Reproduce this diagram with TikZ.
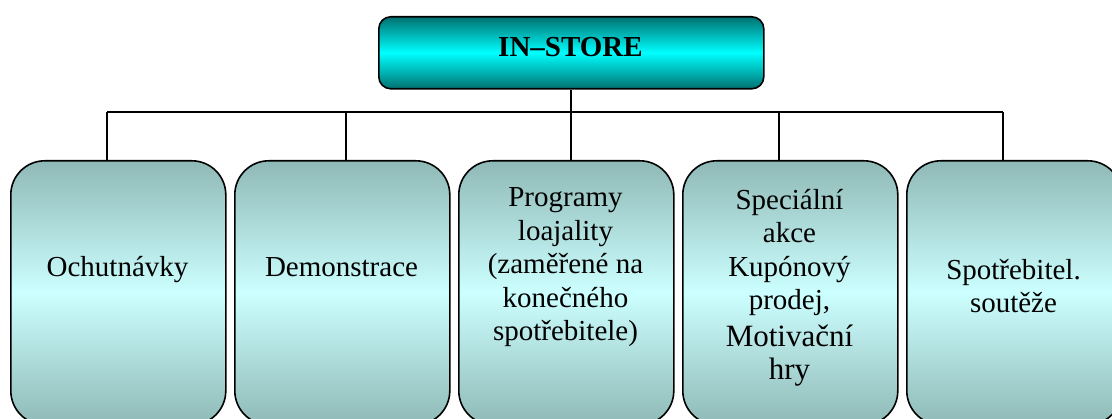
\documentclass[tikz,border=0pt]{standalone}
\usepackage{fontspec}
\setmainfont{Liberation Serif}
\definecolor{topdark}{RGB}{0,112,112}
\definecolor{toplight}{RGB}{0,255,255}
\definecolor{subdark}{RGB}{143,185,182}
\definecolor{sublight}{RGB}{204,255,255}
\begin{document}
\begin{tikzpicture}[x=1pt,y=-1pt,
  topbox/.style={draw=black,line width=1.6pt,rounded corners=12pt,
    top color=topdark,bottom color=topdark,middle color=toplight,
    minimum width=385pt,minimum height=72pt,inner sep=0pt,anchor=north west},
  subbox/.style={draw=black,line width=1.6pt,rounded corners=34pt,
    top color=subdark,bottom color=subdark,middle color=sublight,
    minimum width=215pt,minimum height=264pt,inner sep=0pt,anchor=north west},
  lbl/.style={inner sep=0pt,anchor=base,align=center,
    font=\fontsize{29}{33.5}\selectfont},
  toplbl/.style={inner sep=0pt,anchor=base,font=\fontsize{29}{33}\selectfont\bfseries},
  conn/.style={draw=black,line width=1.4pt}]
\useasboundingbox (0,0) rectangle (1112,419);
\clip (0,0) rectangle (1112,419);
\fill[white] (0,0) rectangle (1112,419);

\node[topbox] (top) at (378,16) {};
\node[toplbl] (toptext) at (570.5,57) {IN–STORE};

\node[subbox] (b1) at (10,160) {};
\node[subbox] (b2) at (234,160) {};
\node[subbox] (b3) at (458,160) {};
\node[subbox] (b4) at (682,160) {};
\node[subbox] (b5) at (906,160) {};

\coordinate (c1) at (107,112);
\coordinate (c2) at (346,112);
\coordinate (c3) at (571,112);
\coordinate (c4) at (779,112);
\coordinate (c5) at (1003,112);

\draw[conn] (c3 |- top.south) -- (c3);
\draw[conn] (c1) -- (c5);
\draw[conn] (c1) -- (c1 |- b1.north);
\draw[conn] (c2) -- (c2 |- b2.north);
\draw[conn] (c3) -- (c3 |- b3.north);
\draw[conn] (c4) -- (c4 |- b4.north);
\draw[conn] (c5) -- (c5 |- b5.north);

\node[lbl] (t1) at (117.5,277) {Ochutnávky};
\node[lbl] (t2) at (341.5,277) {Demonstrace};
\node[lbl] (t3) at (565.5,341) {Programy\\loajality\\(zaměřené na\\konečného\\spotřebitele)};
\node[lbl] (t4) at (789.5,380) {Speciální\\akce\\Kupónový\\prodej,\\[3pt]{\fontsize{31}{35}\selectfont Motivační}\\{\fontsize{31}{35}\selectfont hry}};
\node[lbl] (t5) at (1013.5,313) {Spotřebitel.\\soutěže};
\end{tikzpicture}
\end{document}
